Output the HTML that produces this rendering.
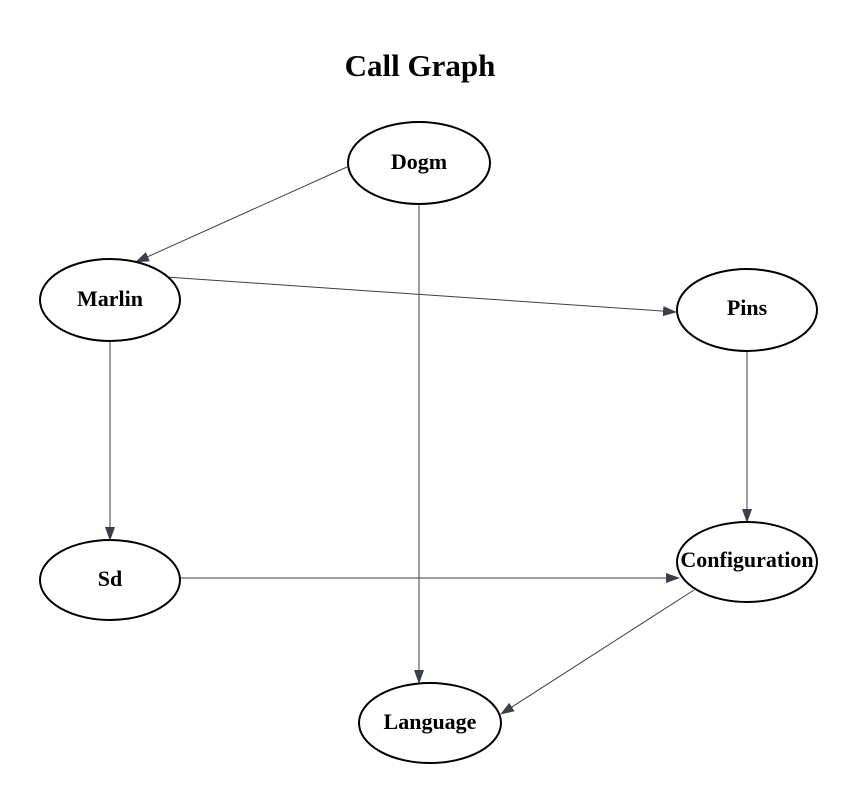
<!DOCTYPE html>
<html><head><meta charset="utf-8"><style>
html,body{margin:0;padding:0;background:#fff;}
svg{display:block;}
text{font-family:"Liberation Serif",serif;font-weight:bold;fill:#000;}
</style></head><body>
<svg width="857" height="805" viewBox="0 0 857 805" xmlns="http://www.w3.org/2000/svg">
<defs><marker id="a" markerWidth="14" markerHeight="10" refX="13" refY="5" orient="auto" markerUnits="userSpaceOnUse"><path d="M0,0 L14,5 L0,10 Z" fill="#3a3f4a"/></marker></defs>
<text x="420" y="76" font-size="31" text-anchor="middle">Call Graph</text>
<g stroke="#3a3f4a" stroke-width="1" fill="none" marker-end="url(#a)">
<line x1="347" y1="167" x2="136" y2="262"/>
<line x1="419" y1="205" x2="419" y2="683"/>
<line x1="166" y1="277" x2="676" y2="312"/>
<line x1="110" y1="341" x2="110" y2="540"/>
<line x1="747" y1="351" x2="747" y2="522"/>
<line x1="180" y1="578" x2="679" y2="578"/>
<line x1="694" y1="590" x2="501" y2="714"/>
</g>
<g fill="#fff" stroke="#000" stroke-width="2">
<ellipse cx="419" cy="163" rx="71" ry="41"/>
<ellipse cx="110" cy="300" rx="70" ry="41"/>
<ellipse cx="747" cy="310" rx="70" ry="41"/>
<ellipse cx="110" cy="580" rx="70" ry="40"/>
<ellipse cx="747" cy="562" rx="70" ry="40"/>
<ellipse cx="430" cy="723" rx="71" ry="40"/>
</g>
<g font-size="22" text-anchor="middle">
<text x="419" y="169">Dogm</text>
<text x="110" y="306">Marlin</text>
<text x="747" y="315">Pins</text>
<text x="110" y="586">Sd</text>
<text x="747" y="567">Configuration</text>
<text x="430" y="729">Language</text>
</g>
</svg>
</body></html>
